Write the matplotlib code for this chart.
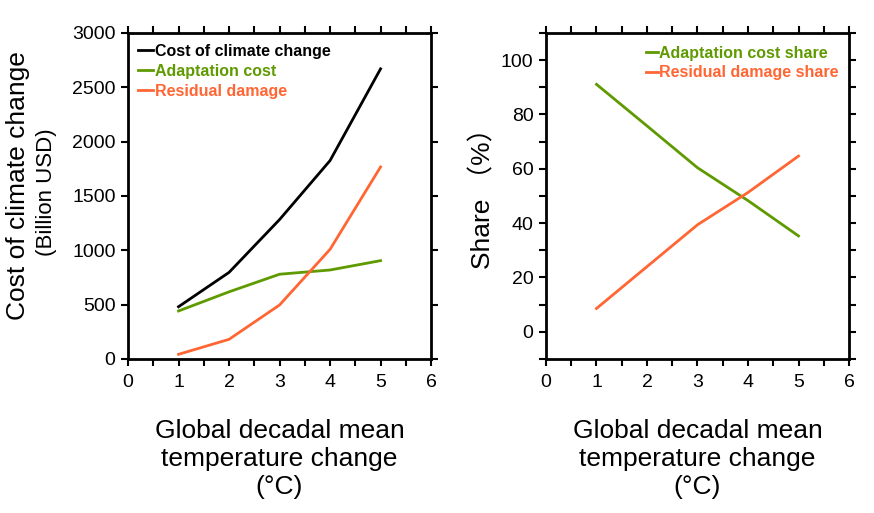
import matplotlib
matplotlib.use('Agg')
from matplotlib import pyplot as plt
from matplotlib.ticker import MultipleLocator

# temperature change (deg C)
temps = [1, 2, 3, 4, 5]

# costs (billion USD)
total_cost = [481, 797, 1283, 1826, 2670]
adaptation_cost = [442, 618, 780, 819, 905]
residual_damage = [43, 181, 497, 1009, 1767]

# shares (%)
adaptation_share = [91.1, 75.8, 60.4, 48.3, 35.3]
residual_share = [8.6, 24.0, 39.4, 51.3, 64.7]

GREEN = '#5f9a00'
ORANGE = '#ff6633'
SANS = ['Liberation Sans', 'DejaVu Sans']
XLABEL = 'Global decadal mean\ntemperature change\n(°C)'


def style_axis(ax):
    for s in ax.spines.values():
        s.set_linewidth(2)
    ax.set_xlim(0, 6)
    ax.xaxis.set_major_locator(MultipleLocator(1))
    ax.xaxis.set_minor_locator(MultipleLocator(0.5))
    ax.tick_params(which='both', direction='out', top=True, right=True,
                   width=1.5, length=5, labelsize=14)
    ax.tick_params(axis='x', pad=6)
    ax.tick_params(axis='y', pad=4)
    ax.set_xlabel(XLABEL, fontsize=19, linespacing=1.2, labelpad=20)


def main():
    plt.rcParams['font.family'] = SANS
    fig = plt.figure(figsize=(8.74, 5.13), dpi=100)
    ax1 = fig.add_axes([0.1465, 0.3002, 0.3467, 0.6355])
    ax2 = fig.add_axes([0.6247, 0.3002, 0.3467, 0.6355])

    legend_style = dict(frameon=False, handletextpad=0.1, labelcolor='linecolor',
                        prop={'weight': 'bold', 'size': 11.5}, borderaxespad=0,
                        borderpad=0, labelspacing=0.3)

    # left panel: costs
    ax1.plot(temps, total_cost, color='black', lw=2, label='Cost of climate change')
    ax1.plot(temps, adaptation_cost, color=GREEN, lw=2, label='Adaptation cost')
    ax1.plot(temps, residual_damage, color=ORANGE, lw=2, label='Residual damage')
    ax1.set_ylim(0, 3000)
    ax1.yaxis.set_major_locator(MultipleLocator(500))
    style_axis(ax1)
    fig.text(0.0206, 0.639, 'Cost of climate change', rotation=90, fontsize=19,
             ha='center', va='center')
    fig.text(0.053, 0.626, '(Billion USD)', rotation=90, fontsize=16,
             ha='center', va='center')
    ax1.legend(loc='upper left', bbox_to_anchor=(0.033, 0.966), handlelength=0.95,
               **legend_style)

    # right panel: shares
    ax2.plot(temps, adaptation_share, color=GREEN, lw=2, label='Adaptation cost share')
    ax2.plot(temps, residual_share, color=ORANGE, lw=2, label='Residual damage share')
    ax2.set_ylim(-10, 110)
    ax2.yaxis.set_major_locator(MultipleLocator(20))
    ax2.yaxis.set_minor_locator(MultipleLocator(10))
    style_axis(ax2)
    fig.text(0.5526, 0.626, 'Share （%）', rotation=90, fontsize=19,
             ha='center', va='center', family=['Liberation Sans', 'Noto Sans CJK JP'])
    ax2.legend(loc='upper right', bbox_to_anchor=(0.966, 0.961), handlelength=0.75,
               **legend_style)

    fig.savefig('out.png', dpi=100)


if __name__ == '__main__':
    main()
